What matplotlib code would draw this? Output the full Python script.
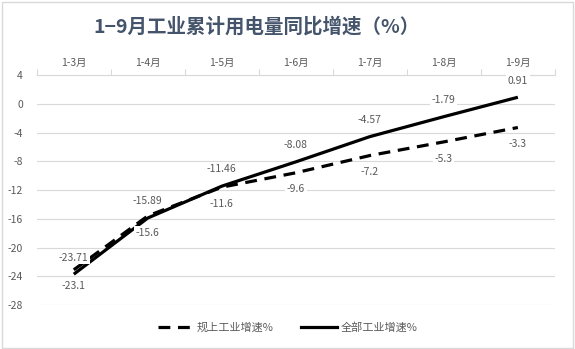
import matplotlib.pyplot as plt
from matplotlib.lines import Line2D

plt.rcParams['font.family'] = ['Noto Sans CJK SC', 'DejaVu Sans']

months = ["1-3月", "1-4月", "1-5月", "1-6月", "1-7月", "1-8月", "1-9月"]
guishang = [-23.1, -15.6, -11.6, -9.6, -7.2, -5.3, -3.3]
quanbu = [-23.71, -15.89, -11.46, -8.08, -4.57, -1.79, 0.91]
yticks = [4, 0, -4, -8, -12, -16, -20, -24, -28]

txt = "#595959"
grid = "#d9d9d9"
lw = 2.3
dash = (0, (3.7, 2.4))

fig = plt.figure(figsize=(5.75, 3.49), dpi=100)
ax = fig.add_axes([0.064, 0.126, 0.901, 0.659])

x = list(range(len(months)))
ax.plot(x, quanbu, color="black", lw=lw, solid_capstyle="butt", zorder=3)
ax.plot(x, guishang, color="black", lw=lw, ls=dash, dash_capstyle="butt", zorder=4)

for i in x:
    ax.annotate(f"{quanbu[i]:g}", (i, quanbu[i]), xytext=(0, 12), textcoords="offset points",
                ha="center", va="center", fontsize=7.5, color=txt, zorder=5,
                bbox=dict(boxstyle="square,pad=0.15", fc="white", ec="none"))
    ax.annotate(f"{guishang[i]:g}", (i, guishang[i]), xytext=(0, -12), textcoords="offset points",
                ha="center", va="center", fontsize=7.5, color=txt, zorder=5,
                bbox=dict(boxstyle="square,pad=0.15", fc="white", ec="none"))

ax.set_xlim(-0.5, len(months) - 0.5)
ax.set_ylim(-28, 4)
ax.set_yticks(yticks)
ax.set_yticklabels([str(v) for v in yticks])
ax.yaxis.grid(True, color=grid, lw=0.8)
ax.set_axisbelow(True)

ax.xaxis.tick_top()
ax.set_xticks([i + 0.5 for i in x[:-1]] + [-0.5, len(months) - 0.5])
ax.set_xticklabels([])
ax.set_xticks(x, minor=True)
ax.set_xticklabels(months, minor=True)
ax.tick_params(axis="x", which="major", length=4, color=grid, top=True, bottom=False)
ax.tick_params(axis="x", which="minor", length=0, labelsize=7.5, labelcolor=txt, pad=5, top=True, bottom=False)
ax.tick_params(axis="y", length=0, labelsize=7.5, labelcolor=txt, pad=10)

for s in ["left", "right", "bottom"]:
    ax.spines[s].set_visible(False)
ax.spines["top"].set_color(grid)

fig.text(0.446, 0.925, "1−9月工业累计用电量同比增速（%）", ha="center", va="center",
         fontsize=14, fontweight="bold", color="#44546a")

handles = [Line2D([], [], color="black", lw=lw, ls=dash),
           Line2D([], [], color="black", lw=lw)]
fig.legend(handles, ["规上工业增速%", "全部工业增速%"], loc="center", bbox_to_anchor=(0.5, 0.063),
           ncol=2, frameon=False, fontsize=8, labelcolor=txt, handlelength=3.2,
           columnspacing=2.5, handletextpad=0.3)

border = plt.Rectangle((0.004, 0.004), 0.992, 0.99, transform=fig.transFigure, fill=False,
                       ec="#d9d9d9", lw=1)
fig.patches.append(border)

fig.savefig("out.png", dpi=100)
